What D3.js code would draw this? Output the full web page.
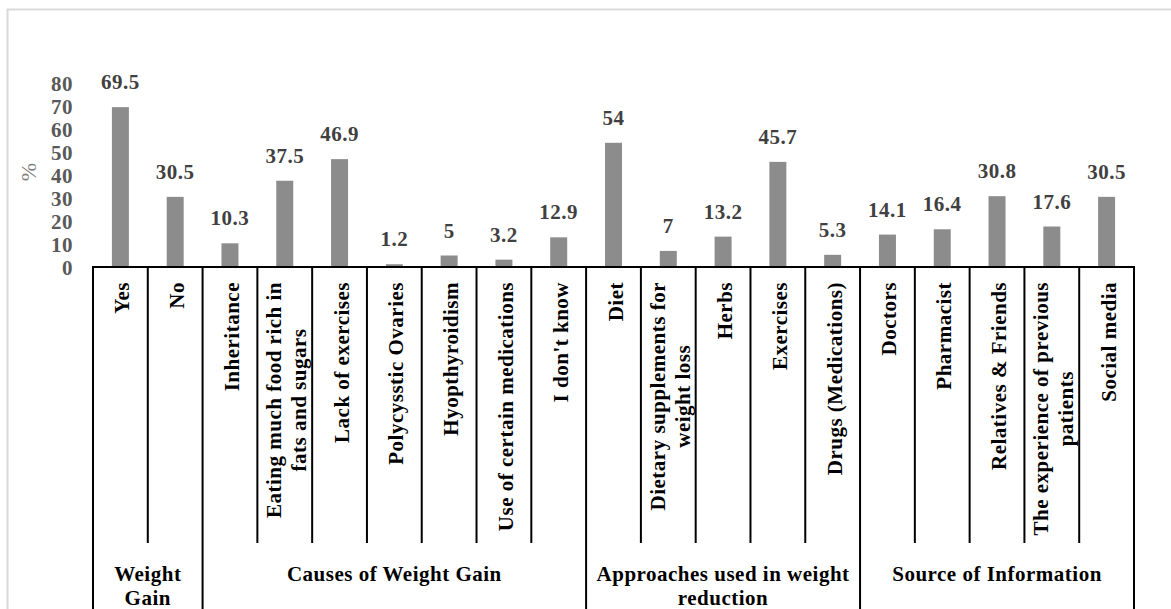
<!DOCTYPE html>
<html>
<head>
<meta charset="utf-8">
<script src="https://cdn.jsdelivr.net/npm/d3@7"></script>
<style>
  html, body { margin: 0; padding: 0; background: #ffffff; }
  svg { display: block; }
  text { font-family: "Liberation Serif", "Times New Roman", serif; }
</style>
</head>
<body>
<svg id="chart" width="1171" height="609"></svg>
<script>
// Survey responses (%), one bar per answer
const categories = [
  "Yes", "No",
  "Inheritance", "Eating much food rich in\nfats and sugars", "Lack of exercises",
  "Polycysstic Ovaries", "Hyopthyroidism", "Use of certain medications", "I don't know",
  "Diet", "Dietary supplements for\nweight loss", "Herbs", "Exercises", "Drugs (Medications)",
  "Doctors", "Pharmacist", "Relatives & Friends", "The experience of previous\npatients", "Social media"
];
const values = [
  69.5, 30.5,
  10.3, 37.5, 46.9, 1.2, 5, 3.2, 12.9,
  54, 7, 13.2, 45.7, 5.3,
  14.1, 16.4, 30.8, 17.6, 30.5
];
const groupNames = [
  "Weight\nGain",
  "Causes of Weight Gain",
  "Approaches used in weight\nreduction",
  "Source of Information"
];
const groupSizes = [2, 7, 5, 5];
const yTicks = [0, 10, 20, 30, 40, 50, 60, 70, 80];
const yTitle = "%";

const svg = d3.select("#chart");
const W = 1171, H = 609;

const tableLeft = 93, tableRight = 1134;
const baseY = 267;          // value axis zero / top of the category table
const catBottom = 543;      // bottom of the per-category cells
const catTextTop = 282;     // where rotated category labels begin

const FS = 21;              // common font size
const LS = 0.5;             // letter spacing

// light frame around the plot area
svg.append("rect")
  .attr("x", 7.5).attr("y", 9.5)
  .attr("width", W).attr("height", H)
  .attr("fill", "none")
  .attr("stroke", "#d9d9d9")
  .attr("stroke-width", 2);

const x = d3.scaleBand()
  .domain(d3.range(categories.length))
  .range([tableLeft, tableRight])
  .paddingInner(0.69)
  .paddingOuter(0.345);
const step = x.step();

const y = d3.scaleLinear().domain([0, 80]).range([baseY, 83]);

// value axis: labels only, no line or tick marks
const yAxis = d3.axisLeft(y).tickValues(yTicks).tickSize(0).tickPadding(0);
const yg = svg.append("g")
  .attr("transform", "translate(73,1)")
  .call(yAxis);
yg.select(".domain").remove();
yg.selectAll("text")
  .attr("font-family", "Liberation Serif")
  .attr("font-size", FS)
  .attr("font-weight", "bold")
  .attr("letter-spacing", LS)
  .attr("fill", "#595959");

svg.append("text")
  .attr("transform", "translate(28,172) rotate(-90)")
  .attr("text-anchor", "middle")
  .attr("dy", "0.35em")
  .attr("font-size", 22)
  .attr("fill", "#7f7f7f")
  .text(yTitle);

// bars
svg.append("g").selectAll("rect")
  .data(values)
  .join("rect")
  .attr("x", (d, i) => x(i))
  .attr("width", x.bandwidth())
  .attr("y", d => y(d))
  .attr("height", d => y(0) - y(d))
  .attr("fill", "#8c8c8c");

// value labels above bars
svg.append("g").selectAll("text")
  .data(values)
  .join("text")
  .attr("x", (d, i) => x(i) + x.bandwidth() / 2)
  .attr("y", d => y(d) - 18)
  .attr("text-anchor", "middle")
  .attr("font-size", FS)
  .attr("font-weight", "bold")
  .attr("letter-spacing", LS)
  .attr("fill", "#404040")
  .text(d => d);

// category table grid
const colLeft = i => tableLeft + i * step;
const groupEdges = [0];
groupSizes.forEach(s => groupEdges.push(groupEdges[groupEdges.length - 1] + s));

const grid = svg.append("g")
  .attr("stroke", "#000")
  .attr("stroke-width", 2)
  .attr("fill", "none");
grid.append("line")
  .attr("x1", tableLeft - 1).attr("x2", tableRight + 1)
  .attr("y1", baseY).attr("y2", baseY);
d3.range(categories.length + 1).forEach(i => {
  const isGroupEdge = groupEdges.includes(i);
  grid.append("line")
    .attr("x1", colLeft(i)).attr("x2", colLeft(i))
    .attr("y1", baseY)
    .attr("y2", isGroupEdge ? H + 5 : catBottom);
});

// rotated category labels, multi-line labels centred on their longest line
const lineGap = 25;
const catG = svg.append("g").selectAll("g")
  .data(categories)
  .join("g")
  .attr("transform", (d, i) => `translate(${colLeft(i) + step / 2},${catTextTop}) rotate(-90)`);
catG.each(function (label) {
  const g = d3.select(this);
  const lines = label.split("\n");
  const n = lines.length;
  const texts = lines.map((ln, k) => g.append("text")
    .attr("text-anchor", "middle")
    .attr("y", (k - (n - 1) / 2) * lineGap + 9)
    .attr("font-size", FS)
    .attr("font-weight", "bold")
    .attr("letter-spacing", LS)
    .attr("fill", "#000")
    .text(ln));
  const maxLen = d3.max(texts, t => t.node().getComputedTextLength());
  texts.forEach(t => t.attr("x", -maxLen / 2));
});

// group labels in the bottom row
svg.append("g").selectAll("g")
  .data(groupNames)
  .join("g")
  .each(function (name, gi) {
    const cx = (colLeft(groupEdges[gi]) + colLeft(groupEdges[gi + 1])) / 2;
    name.split("\n").forEach((ln, k) => {
      d3.select(this).append("text")
        .attr("x", cx)
        .attr("y", 581 + k * 24)
        .attr("text-anchor", "middle")
        .attr("font-size", FS)
        .attr("font-weight", "bold")
        .attr("letter-spacing", LS)
        .attr("fill", "#000")
        .text(ln);
    });
  });
</script>
</body>
</html>
